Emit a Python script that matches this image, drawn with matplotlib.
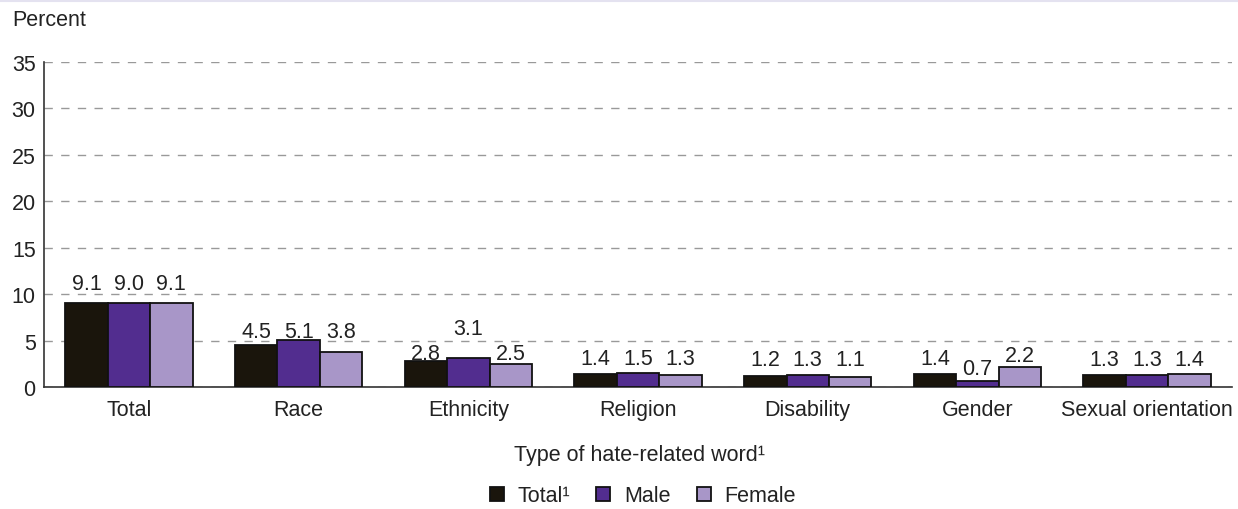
import matplotlib
matplotlib.use("Agg")
import matplotlib.pyplot as plt
from matplotlib.transforms import offset_copy
import numpy as np

plt.rcParams['font.family'] = ['Liberation Sans', 'DejaVu Sans']

categories = ["Total", "Race", "Ethnicity", "Religion", "Disability", "Gender", "Sexual orientation"]
series_names = ["Total\u00b9", "Male", "Female"]
total = [9.1, 4.5, 2.8, 1.4, 1.2, 1.4, 1.3]
male = [9.0, 5.1, 3.1, 1.5, 1.3, 0.7, 1.3]
female = [9.1, 3.8, 2.5, 1.3, 1.1, 2.2, 1.4]
colors = ["#1a150c", "#522d8f", "#a896c8"]
yticks = [0, 5, 10, 15, 20, 25, 30, 35]

# label gap above each bar, in pixels (layout only)
label_gap_px = [
    [13.5, 8, 2, 10, 11, 10, 10],
    [14.4, 2.6, 24, 9, 10, 6.5, 10],
    [13.5, 14.7, 4.8, 11, 12, 5.6, 9],
]

FS = 15.5
TXT = "#222222"

fig = plt.figure(figsize=(12.38, 5.10), dpi=100)
ax = fig.add_axes([44/1238, 1-388/510, (1232-44)/1238, (388-63)/510])

x = np.arange(len(categories))
w = 0.25
for i, (vals, name, c) in enumerate(zip([total, male, female], series_names, colors)):
    ax.bar(x + (i-1)*w, vals, w, color=c, edgecolor="#111111", linewidth=1.3,
           label=name, zorder=3)
    for j, (xi, v) in enumerate(zip(x + (i-1)*w, vals)):
        tr = offset_copy(ax.transData, fig=fig, x=0, y=label_gap_px[i][j], units="dots")
        ax.text(xi, v, f"{v:.1f}", ha="center", va="baseline", fontsize=FS, color=TXT,
                transform=tr, zorder=4)

ax.set_xlim(-0.5, len(categories)-0.5)
ax.set_ylim(0, 35)
ax.set_yticks(yticks)
ax.set_xticks(x)
ax.set_xticklabels(categories, fontsize=FS, color=TXT)
ax.tick_params(axis="y", labelsize=FS, length=0, pad=6, labelcolor=TXT)
ax.tick_params(axis="x", length=0, pad=9)
ax.yaxis.grid(True, linestyle=(0, (6, 6)), color="#999999", linewidth=1, zorder=0)
ax.set_axisbelow(True)
for s in ["top", "right"]:
    ax.spines[s].set_visible(False)
for s in ["left", "bottom"]:
    ax.spines[s].set_color("#333333")
    ax.spines[s].set_linewidth(1.2)

fig.text(12/1238, 1-20/510, "Percent", fontsize=FS, color=TXT, va="center", ha="left")
fig.text(640/1238, 1-455/510, "Type of hate-related word\u00b9", fontsize=FS, color=TXT,
         va="center", ha="center")
leg = fig.legend(loc="center", bbox_to_anchor=(643/1238, 1-497/510), ncol=3, frameon=False,
                 fontsize=FS, handlelength=0.65, handleheight=0.65, handletextpad=0.65,
                 columnspacing=1.2)
for t in leg.get_texts():
    t.set_color(TXT)

fig.add_artist(plt.Line2D([0, 1], [1-1.5/510, 1-1.5/510], color="#e4e2f0", linewidth=1.5))

fig.savefig("out.png", dpi=100)
